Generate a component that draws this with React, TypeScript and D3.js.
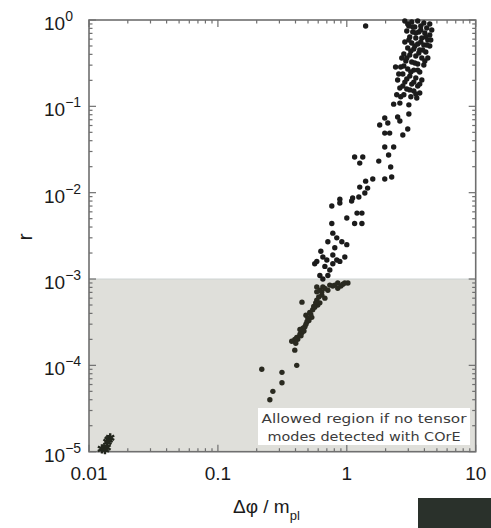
import React, { useEffect, useRef } from 'react';
import * as d3 from 'd3';

// [Δφ/m_pl, r]
const topCluster: [number, number][] = [
  [1.40, 0.852], [2.82, 0.974], [3.19, 0.948], [3.55, 0.974], [3.96, 0.923], [4.40, 0.899],
  [3.03, 0.852], [3.37, 0.830], [3.75, 0.852], [4.17, 0.808], [4.56, 0.766], [2.92, 0.746],
  [3.25, 0.726], [3.62, 0.726], [4.03, 0.707], [4.40, 0.670], [3.08, 0.635], [3.43, 0.619],
  [3.82, 0.619], [4.25, 0.587], [2.82, 0.556], [3.19, 0.542], [3.55, 0.527], [3.96, 0.513],
  [4.40, 0.500], [2.97, 0.474], [3.31, 0.461], [3.68, 0.449], [4.10, 0.426], [2.77, 0.404],
  [3.08, 0.393], [3.43, 0.383], [3.82, 0.363], [4.25, 0.363], [2.87, 0.335], [3.19, 0.326],
  [3.55, 0.309], [3.96, 0.301], [2.62, 0.286], [2.39, 0.286], [2.97, 0.271], [3.31, 0.263],
  [3.68, 0.250], [2.72, 0.237], [3.08, 0.224], [3.43, 0.213], [3.82, 0.202], [2.48, 0.202],
  [2.82, 0.191], [3.19, 0.181], [3.55, 0.172], [2.58, 0.163], [2.92, 0.159], [3.31, 0.151],
  [3.68, 0.143], [2.44, 0.136], [2.77, 0.136], [3.14, 0.129], [3.49, 0.125],
  [2.97, 0.899], [3.75, 0.766], [3.43, 0.707], [4.10, 0.635], [3.03, 0.587], [3.75, 0.556],
  [3.37, 0.500], [4.17, 0.513], [3.14, 0.437], [3.62, 0.415], [2.92, 0.363], [4.03, 0.335],
  [3.37, 0.318], [2.77, 0.293], [3.14, 0.250], [3.55, 0.263], [2.53, 0.237], [2.92, 0.207],
  [3.31, 0.191], [3.68, 0.181], [2.72, 0.172], [3.08, 0.155], [3.43, 0.139], [2.62, 0.129],
  [3.88, 0.449], [4.48, 0.587], [3.25, 0.830], [2.67, 0.363],
];

const upperBranch: [number, number][] = [
  [2.31, 0.106], [2.58, 0.109], [3.03, 0.104], [3.03, 0.0814], [1.97, 0.0732], [2.08, 0.0641],
  [1.80, 0.0607], [2.48, 0.0752], [2.58, 0.0676], [1.97, 0.0490], [2.15, 0.0490], [2.97, 0.0546],
  [2.72, 0.0465], [1.97, 0.0338], [2.31, 0.0338], [2.11, 0.0273], [1.15, 0.0259], [1.33, 0.0259],
  [1.26, 0.0220], [1.77, 0.0232], [2.19, 0.0198], [1.40, 0.0136], [1.59, 0.0144], [1.97, 0.0144],
  [2.23, 0.0152], [1.26, 0.0116], [1.45, 0.0113], [1.38, 0.0099], [1.11, 0.0087], [1.24, 0.0089],
  [0.883, 0.0084],
];

const middleBranch: [number, number][] = [
  [0.765, 0.0070], [0.883, 0.0076], [1.09, 0.0080], [1.00, 0.0051], [1.20, 0.0058], [1.31, 0.0058],
  [1.15, 0.0044], [1.31, 0.0044], [0.765, 0.0044], [0.779, 0.0034], [0.836, 0.0030], [0.915, 0.0027],
  [0.713, 0.0027], [1.00, 0.0025], [0.807, 0.0023], [0.629, 0.0021], [0.652, 0.0018], [0.779, 0.0019],
  [0.965, 0.0018], [0.585, 0.0016], [0.700, 0.00166], [0.836, 0.00166], [0.779, 0.0015], [0.883, 0.0016],
  [0.676, 0.0014], [0.738, 0.00127], [0.564, 0.0015], [0.618, 0.0011], [0.713, 0.0011], [0.652, 0.0010],
];

const lowerBranch: [number, number][] = [
  [0.851, 0.00090], [0.932, 0.00087], [1.02, 0.00090], [0.585, 0.00081], [0.652, 0.00081],
  [0.738, 0.00085], [0.807, 0.00085], [0.618, 0.00074], [0.585, 0.00071], [0.713, 0.00074],
  [0.851, 0.00078], [0.640, 0.00065], [0.676, 0.00060], [0.585, 0.00057], [0.618, 0.00053],
  [0.595, 0.00050], [0.449, 0.00054], [0.564, 0.00047], [0.544, 0.00044], [0.516, 0.00041],
  [0.535, 0.00036], [0.482, 0.00038], [0.499, 0.00035], [0.491, 0.00032], [0.473, 0.00028],
  [0.457, 0.00027], [0.449, 0.00024], [0.433, 0.00026], [0.433, 0.00023], [0.409, 0.00021],
  [0.416, 0.00020], [0.395, 0.00020], [0.374, 0.00019], [0.402, 0.00018], [0.395, 0.00015],
  [0.409, 0.000100], [0.219, 0.000090], [0.314, 0.000083], [0.314, 0.000063], [0.267, 0.000050],
  [0.253, 0.000040],
  [0.779, 0.00083], [0.676, 0.00078], [0.640, 0.00071], [0.606, 0.00062], [0.574, 0.00053],
  [0.554, 0.00048], [0.525, 0.00039], [0.508, 0.00033], [0.482, 0.00030], [0.465, 0.00025],
  [0.441, 0.00022], [0.899, 0.00083], [0.965, 0.00090],
];

// small-field models, drawn as stars
const starPoints: [number, number][] = [
  [0.0146, 1.45e-5], [0.0142, 1.38e-5], [0.0139, 1.30e-5],
  [0.0126, 1.08e-5], [0.0133, 1.06e-5], [0.0137, 1.12e-5],
];

const xTickValues = [0.01, 0.1, 1, 10];
const xTickLabels = ['0.01', '0.1', '1', '10'];
const yTickExponents = [0, -1, -2, -3, -4, -5];
const rLimit = 1e-3;
const boxLines = ['Allowed region if no tensor', 'modes detected with COrE'];

function App() {
  const ref = useRef<SVGSVGElement | null>(null);

  useEffect(() => {
    const svg = d3.select(ref.current);
    svg.selectAll('*').remove();

    const x = d3.scaleLog().domain([0.01, 10]).range([89, 475.7]);
    const y = d3.scaleLog().domain([1e-5, 1]).range([451.7, 20]);
    const [x0, x1] = x.range();
    const [y0, y1] = y.range();
    const axisColor = '#6f6f6f';
    const font = '"Liberation Sans", Arial, Helvetica, sans-serif';

    // shaded allowed region
    svg.append('rect')
      .attr('x', x0).attr('y', y(rLimit))
      .attr('width', x1 - x0).attr('height', y0 - y(rLimit))
      .attr('fill', '#dfdfda');
    svg.append('line')
      .attr('x1', x0).attr('x2', x1)
      .attr('y1', y(rLimit)).attr('y2', y(rLimit))
      .attr('stroke', '#cdd3d3').attr('stroke-width', 1);

    // minor + major ticks on log axes
    const logTicks = (lo: number, hi: number) => {
      const out: { v: number; major: boolean }[] = [];
      for (let e = lo; e < hi; e++) {
        for (let m = 1; m < 10; m++) out.push({ v: m * Math.pow(10, e), major: m === 1 });
      }
      out.push({ v: Math.pow(10, hi), major: true });
      return out;
    };
    const xt = logTicks(-2, 1);
    const yt = logTicks(-5, 0);

    const g = svg.append('g').attr('stroke', axisColor).attr('stroke-width', 1.2);
    xt.forEach(t => {
      const len = t.major ? 7 : 3.5;
      g.append('line').attr('x1', x(t.v)).attr('x2', x(t.v)).attr('y1', y0).attr('y2', y0 - len);
      g.append('line').attr('x1', x(t.v)).attr('x2', x(t.v)).attr('y1', y1).attr('y2', y1 + len);
    });
    yt.forEach(t => {
      const len = t.major ? 7 : 3.5;
      g.append('line').attr('x1', x0).attr('x2', x0 + len).attr('y1', y(t.v)).attr('y2', y(t.v));
      g.append('line').attr('x1', x1).attr('x2', x1 - len).attr('y1', y(t.v)).attr('y2', y(t.v));
    });
    svg.append('rect')
      .attr('x', x0).attr('y', y1)
      .attr('width', x1 - x0).attr('height', y0 - y1)
      .attr('fill', 'none').attr('stroke', axisColor).attr('stroke-width', 1.6);

    // points
    const all = [...topCluster, ...upperBranch, ...middleBranch, ...lowerBranch];
    svg.append('g')
      .selectAll('circle')
      .data(all)
      .enter()
      .append('circle')
      .attr('cx', d => x(d[0]))
      .attr('cy', d => y(d[1]))
      .attr('r', 2.7)
      .attr('fill', d => (d[1] < rLimit ? '#2a2a20' : '#1b1b1b'));

    const star = d3.symbol().type(d3.symbolAsterisk).size(60);
    svg.append('g')
      .selectAll('path')
      .data(starPoints)
      .enter()
      .append('path')
      .attr('transform', d => `translate(${x(d[0])},${y(d[1])})`)
      .attr('d', star)
      .attr('fill', 'none')
      .attr('stroke', '#23271e')
      .attr('stroke-width', 2.4);

    // tick labels
    xTickValues.forEach((v, i) => {
      svg.append('text')
        .attr('x', x(v)).attr('y', 480)
        .attr('text-anchor', 'middle')
        .attr('font-family', font).attr('font-size', 19)
        .attr('fill', '#1a1a1a')
        .text(xTickLabels[i]);
    });
    yTickExponents.forEach(e => {
      const t = svg.append('text')
        .attr('x', 44).attr('y', y(Math.pow(10, e)) + 10)
        .attr('font-family', font).attr('font-size', 19)
        .attr('fill', '#1a1a1a');
      t.append('tspan').text('10');
      t.append('tspan').attr('dy', -9).attr('font-size', 14).text(e === 0 ? '0' : `\u2212${-e}`);
    });

    // axis titles
    svg.append('text')
      .attr('transform', 'translate(32,237) rotate(-90)')
      .attr('text-anchor', 'middle')
      .attr('font-family', font).attr('font-size', 21)
      .attr('fill', '#1a1a1a')
      .text('r');
    const xt2 = svg.append('text')
      .attr('x', 233).attr('y', 513)
      .attr('font-family', font).attr('font-size', 19)
      .attr('fill', '#1a1a1a');
    xt2.append('tspan').text('\u0394\u03c6 / m');
    xt2.append('tspan').attr('dy', 7).attr('font-size', 13).text('pl');

    // annotation box
    svg.append('rect')
      .attr('x', 258).attr('y', 408).attr('width', 212).attr('height', 37)
      .attr('fill', '#ffffff');
    boxLines.forEach((s, i) => {
      svg.append('text')
        .attr('x', 364).attr('y', 423 + i * 17.5)
        .attr('text-anchor', 'middle')
        .attr('font-family', '"DejaVu Sans", "Open Sans", sans-serif')
        .attr('font-size', 13)
        .attr('textLength', i === 0 ? 205 : 193)
        .attr('lengthAdjust', 'spacingAndGlyphs')
        .attr('fill', '#3b3b3b')
        .text(s);
    });

    // dark corner patch
    svg.append('rect')
      .attr('x', 418).attr('y', 498).attr('width', 73).attr('height', 30)
      .attr('fill', '#2a312b');
  }, []);

  return (
    <div style={{ position: 'absolute', left: 0, top: 0, width: 491, height: 528, background: '#fff' }}>
      <svg ref={ref} width={491} height={528} style={{ display: 'block' }} />
    </div>
  );
}

export default App;
